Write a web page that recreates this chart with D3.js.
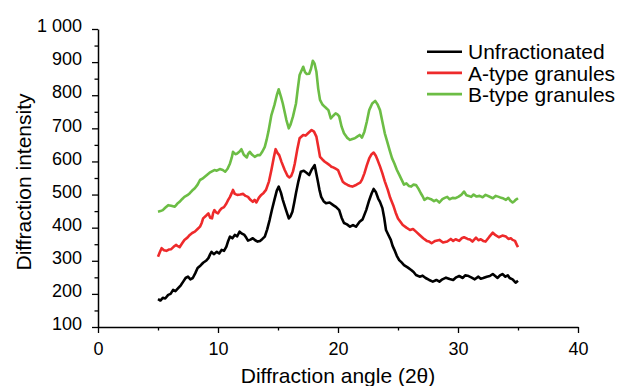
<!DOCTYPE html>
<html>
<head>
<meta charset="utf-8">
<script src="https://cdn.jsdelivr.net/npm/d3@7"></script>
<style>
  body { margin: 0; background: #fff; }
  text { font-family: "Liberation Sans", Arial, sans-serif; fill: #000; }
</style>
</head>
<body>
<svg id="xrd-graph" width="630" height="386"></svg>
<script>
// [2θ, intensity]
const unfractionated = [
  [5.0,184],[5.2,180],[5.4,188],[5.6,186],[5.85,197],[6.05,200],[6.26,212],[6.45,208],[6.7,218],[6.9,226],
  [7.1,237],[7.3,248],[7.5,252],[7.7,244],[7.9,248],[8.1,262],[8.3,278],[8.55,286],[8.76,294],[9.0,300],
  [9.2,308],[9.35,320],[9.46,327],[9.65,320],[9.9,327],[10.1,322],[10.3,333],[10.5,330],[10.7,343],[10.85,360],
  [11.0,373],[11.2,368],[11.4,378],[11.6,374],[11.8,388],[12.0,382],[12.2,378],[12.35,370],[12.5,361],[12.7,364],
  [12.9,368],[13.1,362],[13.3,358],[13.5,360],[13.7,366],[13.9,373],[14.1,395],[14.3,423],[14.5,455],[14.7,484],
  [14.9,512],[15.06,524],[15.25,505],[15.4,484],[15.65,455],[15.9,428],[16.05,435],[16.2,448],[16.35,475],[16.5,505],
  [16.7,540],[16.9,569],[17.15,572],[17.4,565],[17.6,559],[17.8,575],[18.05,589],[18.3,544],[18.45,515],[18.6,493],
  [18.8,480],[19.0,474],[19.3,476],[19.6,468],[19.85,462],[20.1,453],[20.3,430],[20.5,414],[20.75,410],[21.0,403],
  [21.25,408],[21.5,403],[21.8,418],[22.05,425],[22.35,453],[22.6,483],[22.8,503],[22.97,517],[23.15,508],[23.35,488],
  [23.5,478],[23.7,459],[23.85,430],[24.0,393],[24.2,378],[24.4,363],[24.55,345],[24.7,333],[24.9,315],[25.1,302],
  [25.3,295],[25.5,287],[25.8,280],[26.1,272],[26.3,266],[26.5,257],[26.8,252],[27.05,255],[27.3,248],[27.6,242],
  [27.9,237],[28.2,242],[28.45,237],[28.7,244],[29.0,249],[29.3,245],[29.6,242],[29.85,250],[30.1,254],[30.4,248],
  [30.6,256],[30.8,255],[31.1,250],[31.4,244],[31.7,252],[31.9,246],[32.1,248],[32.4,252],[32.65,254],[32.9,260],
  [33.1,254],[33.3,248],[33.5,256],[33.7,260],[33.95,252],[34.15,256],[34.3,248],[34.55,244],[34.8,234],[35.0,240]
];

const aType = [
  [5.0,312],[5.15,326],[5.3,338],[5.5,332],[5.7,330],[5.9,334],[6.1,335],[6.3,342],[6.5,348],[6.65,344],
  [6.8,341],[7.0,352],[7.2,363],[7.45,370],[7.65,378],[7.85,384],[8.07,388],[8.3,396],[8.5,403],[8.65,415],
  [8.76,428],[9.0,436],[9.2,443],[9.35,430],[9.5,428],[9.6,445],[9.7,453],[9.85,446],[10.0,443],[10.15,452],
  [10.3,458],[10.5,462],[10.7,473],[10.85,484],[11.0,493],[11.15,505],[11.25,514],[11.4,502],[11.6,499],[11.85,500],
  [12.1,502],[12.3,496],[12.5,493],[12.7,484],[12.9,478],[13.05,484],[13.2,476],[13.4,490],[13.6,499],[13.8,505],
  [14.0,514],[14.25,540],[14.45,574],[14.65,612],[14.8,637],[14.95,626],[15.1,619],[15.3,598],[15.56,574],[15.8,556],
  [15.95,552],[16.1,556],[16.25,570],[16.4,594],[16.6,635],[16.8,670],[17.1,680],[17.3,678],[17.5,685],[17.8,695],
  [18.0,690],[18.2,675],[18.35,645],[18.5,614],[18.7,606],[18.9,599],[19.1,594],[19.3,589],[19.45,584],[19.6,582],
  [19.8,578],[20.0,574],[20.2,556],[20.4,539],[20.6,533],[20.8,529],[21.0,526],[21.2,524],[21.45,528],[21.65,532],
  [21.85,536],[22.0,545],[22.2,564],[22.4,588],[22.6,609],[22.8,622],[22.97,627],[23.15,617],[23.3,604],[23.5,585],
  [23.7,564],[23.9,540],[24.15,514],[24.35,490],[24.6,468],[24.8,446],[25.0,428],[25.2,418],[25.4,408],[25.7,400],
  [26.0,393],[26.25,396],[26.5,388],[26.8,378],[27.1,368],[27.4,360],[27.6,358],[27.8,353],[28.1,360],[28.45,363],
  [28.75,355],[29.1,358],[29.4,366],[29.6,360],[29.8,365],[30.1,360],[30.3,368],[30.5,371],[30.8,366],[31.0,364],
  [31.2,358],[31.5,370],[31.7,362],[31.9,365],[32.1,360],[32.3,358],[32.6,372],[32.9,385],[33.1,378],[33.4,371],
  [33.7,376],[34.0,373],[34.2,366],[34.4,368],[34.55,363],[34.75,360],[34.9,348],[35.0,341]
];

const bType = [
  [5.0,448],[5.2,450],[5.4,453],[5.6,460],[5.85,468],[6.1,466],[6.4,463],[6.6,472],[6.8,478],[7.0,486],
  [7.2,493],[7.45,498],[7.65,504],[7.85,512],[8.07,519],[8.3,530],[8.5,544],[8.7,548],[8.9,554],[9.1,560],
  [9.3,566],[9.5,570],[9.7,574],[9.9,572],[10.15,577],[10.4,574],[10.6,569],[10.8,578],[11.0,594],[11.15,612],
  [11.25,629],[11.45,622],[11.6,624],[11.8,630],[11.95,637],[12.15,620],[12.4,612],[12.5,622],[12.65,629],[12.85,620],
  [13.06,614],[13.3,619],[13.5,619],[13.7,630],[13.9,644],[14.05,665],[14.2,690],[14.45,740],[14.7,770],[14.9,800],
  [15.06,818],[15.25,795],[15.4,775],[15.55,750],[15.7,725],[15.9,700],[16.05,712],[16.25,736],[16.5,775],[16.65,820],
  [16.8,861],[17.1,886],[17.25,870],[17.4,864],[17.6,865],[17.75,880],[17.9,904],[18.05,895],[18.2,871],[18.35,820],
  [18.5,786],[18.7,772],[18.9,765],[19.05,760],[19.2,755],[19.4,730],[19.6,738],[19.8,745],[19.95,742],[20.1,736],
  [20.3,705],[20.5,685],[20.75,672],[21.0,665],[21.2,668],[21.4,670],[21.6,675],[21.8,680],[22.0,672],[22.2,690],
  [22.4,720],[22.6,755],[22.85,775],[23.1,783],[23.3,772],[23.5,755],[23.7,720],[23.9,685],[24.1,660],[24.3,634],
  [24.5,610],[24.7,594],[24.9,575],[25.1,560],[25.3,545],[25.5,530],[25.7,534],[25.9,526],[26.1,524],[26.3,530],
  [26.5,529],[26.7,518],[26.9,504],[27.05,495],[27.2,484],[27.45,490],[27.75,486],[28.0,480],[28.2,484],[28.45,476],
  [28.7,486],[28.9,490],[29.1,493],[29.3,486],[29.55,490],[29.8,489],[30.05,494],[30.3,500],[30.5,509],[30.7,498],
  [30.9,496],[31.1,493],[31.3,500],[31.55,494],[31.8,496],[32.05,492],[32.3,499],[32.6,494],[32.9,489],[33.15,496],
  [33.4,493],[33.6,490],[33.8,488],[34.0,484],[34.2,490],[34.35,482],[34.55,476],[34.7,480],[34.8,484],[35.0,489]
];

const seriesNames = ["Unfractionated", "A-type granules", "B-type granules"];
const seriesColors = ["#000000", "#ee2a2b", "#6cbd45"];
const xTicks = [0, 10, 20, 30, 40];
const yTicks = [100, 200, 300, 400, 500, 600, 700, 800, 900, 1000];

const svg = d3.select("#xrd-graph");

const x = d3.scaleLinear().domain([0, 40]).range([98, 578]);
const y = d3.scaleLinear().domain([100, 1000]).range([327, 29]);

// minor ticks
svg.append("g")
    .attr("transform", "translate(0,327)")
    .call(d3.axisBottom(x).tickValues([5, 15, 25, 35]).tickSize(3.5).tickFormat(""))
    .call(g => g.select(".domain").remove())
    .selectAll("line").attr("stroke-width", 1.3);

svg.append("g")
    .attr("transform", "translate(98,0)")
    .call(d3.axisLeft(y).tickValues(d3.range(150, 1000, 100)).tickSize(3.5).tickFormat(""))
    .call(g => g.select(".domain").remove())
    .selectAll("line").attr("stroke-width", 1.3);

// major axes
const xAxis = svg.append("g")
    .attr("transform", "translate(0,327)")
    .call(d3.axisBottom(x).tickValues(xTicks).tickSize(6).tickSizeOuter(0).tickPadding(9));

const yAxis = svg.append("g")
    .attr("transform", "translate(98,0)")
    .call(d3.axisLeft(y).tickValues(yTicks).tickSize(6).tickSizeOuter(0).tickPadding(10)
      .tickFormat(d => d === 1000 ? "1 000" : d));

[xAxis, yAxis].forEach(a => {
  a.select(".domain").attr("stroke-width", 1.5);
  a.selectAll(".tick line").attr("stroke-width", 1.3);
  a.selectAll(".tick text")
    .style("font-size", "18px")
    .style("font-family", "'Liberation Sans', Arial, sans-serif");
});
yAxis.selectAll(".tick text").attr("dy", "0.15em");

// curves
const line = d3.line()
    .x(d => x(d[0]))
    .y(d => y(d[1]));

[unfractionated, aType, bType].forEach((data, i) => {
  svg.append("path")
      .datum(data)
      .attr("fill", "none")
      .attr("stroke", seriesColors[i])
      .attr("stroke-width", 2.6)
      .attr("stroke-linejoin", "round")
      .attr("d", line);
});

// axis titles
svg.append("text")
    .attr("x", 338)
    .attr("y", 383)
    .attr("text-anchor", "middle")
    .style("font-size", "21px")
    .text("Diffraction angle (2θ)");

svg.append("text")
    .attr("transform", "translate(31,182) rotate(-90)")
    .attr("text-anchor", "middle")
    .style("font-size", "21px")
    .text("Diffraction intensity");

// legend
const legend = svg.append("g")
    .selectAll("g")
    .data(seriesNames)
    .enter()
    .append("g")
    .attr("transform", (d, i) => "translate(427," + (51.7 + i * 21.2) + ")");

legend.append("line")
    .attr("x1", 0)
    .attr("x2", 35)
    .attr("stroke", (d, i) => seriesColors[i])
    .attr("stroke-width", 2.6);

legend.append("text")
    .attr("x", 41)
    .attr("y", 7.6)
    .style("font-size", "21px")
    .text(d => d);
</script>
</body>
</html>
